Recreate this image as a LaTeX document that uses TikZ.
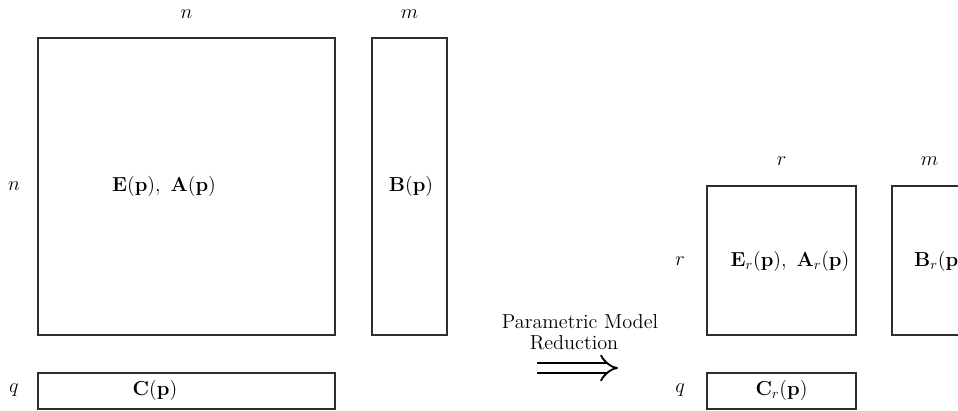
\documentclass[tikz,border=0pt]{standalone}
\usetikzlibrary{arrows.meta}
\begin{document}
\begin{tikzpicture}[x=0.025cm,y=-0.025cm,
  mat/.style={draw=black!82,line width=1.05pt},
  lbl/.style={inner sep=0pt,font=\Large}]
\useasboundingbox (0,0) rectangle (958,410);
% left (full) model
\draw[mat] (38,38) rectangle (335,335);
\draw[mat] (372,38) rectangle (447,335);
\draw[mat] (38,373) rectangle (335,409);
\node[lbl] (nt) at (186.5,14) {$n$};
\node[lbl] (mt) at (409.5,14) {$m$};
\node[lbl] (nl) at (14,186.5) {$n$};
\node[lbl] (ql) at (14,390) {$q$};
\node[lbl] (EA) at (164,186.5) {$\mathbf{E}(\mathbf{p}),\ \mathbf{A}(\mathbf{p})$};
\node[lbl] (B) at (411,186.5) {$\mathbf{B}(\mathbf{p})$};
\node[lbl] (C) at (155,390) {$\mathbf{C}(\mathbf{p})$};
% right (reduced) model
\draw[mat] (707,186) rectangle (856,335);
\draw[mat] (892,186) rectangle (967,335);
\draw[mat] (707,373) rectangle (856,409);
\node[lbl] (rt) at (781.5,161) {$r$};
\node[lbl] (mrt) at (929.5,161) {$m$};
\node[lbl] (rl) at (680,261) {$r$};
\node[lbl] (qrl) at (680,390) {$q$};
\node[lbl] (EAr) at (790,261) {$\mathbf{E}_r(\mathbf{p}),\ \mathbf{A}_r(\mathbf{p})$};
\node[lbl] (Br) at (940,261) {$\mathbf{B}_r(\mathbf{p})$};
\node[lbl] (Cr) at (781.5,390) {$\mathbf{C}_r(\mathbf{p})$};
% arrow
\node[lbl] (t1) at (580,322) {Parametric Model};
\node[lbl] (t2) at (574,343) {Reduction};
\coordinate (a0) at (537,368);
\coordinate (a1) at (618,368);
\draw[line width=1.3pt,double distance=5.4pt,-{Implies[length=11pt,width=20pt]}] (a0) -- (a1);
\end{tikzpicture}
\end{document}
